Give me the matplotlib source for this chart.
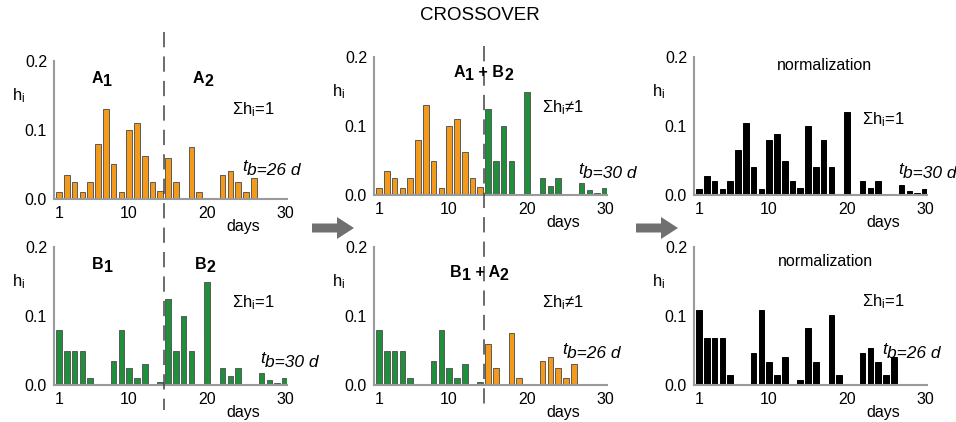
import numpy as np
import matplotlib
matplotlib.use("Agg")
import matplotlib.pyplot as plt
from matplotlib.lines import Line2D
from matplotlib.patches import FancyArrow

plt.rcParams['font.family'] = ['Liberation Sans', 'DejaVu Sans']
plt.rcParams['mathtext.fontset'] = 'custom'
plt.rcParams['mathtext.rm'] = 'Liberation Sans'
plt.rcParams['mathtext.it'] = 'Liberation Sans:italic'
plt.rcParams['mathtext.bf'] = 'Liberation Sans:bold'

# ---- data ----
days = np.arange(1, 31)
split_day = 14  # A1/B1 = days 1..14, A2/B2 = days 15..30

hist_A = [0.010, 0.035, 0.025, 0.010, 0.025, 0.080, 0.130, 0.050, 0.010, 0.100,
          0.110, 0.062, 0.025, 0.012, 0.060, 0.025, 0.000, 0.075, 0.010, 0.000,
          0.000, 0.035, 0.040, 0.025, 0.010, 0.030, 0.000, 0.000, 0.000, 0.000]
hist_B = [0.080, 0.050, 0.050, 0.050, 0.010, 0.000, 0.000, 0.035, 0.080, 0.025,
          0.010, 0.030, 0.000, 0.005, 0.125, 0.050, 0.100, 0.050, 0.000, 0.150,
          0.000, 0.025, 0.0125, 0.025, 0.000, 0.000, 0.017, 0.007, 0.003, 0.010]
norm_A1B2 = [0.008, 0.028, 0.020, 0.008, 0.020, 0.065, 0.105, 0.040, 0.008, 0.080,
             0.088, 0.050, 0.020, 0.010, 0.100, 0.040, 0.080, 0.040, 0.000, 0.120,
             0.000, 0.020, 0.010, 0.020, 0.000, 0.000, 0.014, 0.006, 0.003, 0.008]
norm_B1A2 = [0.109, 0.068, 0.068, 0.068, 0.014, 0.000, 0.000, 0.047, 0.109, 0.034,
             0.014, 0.041, 0.000, 0.007, 0.082, 0.034, 0.000, 0.102, 0.014, 0.000,
             0.000, 0.047, 0.054, 0.034, 0.014, 0.041, 0.000, 0.000, 0.000, 0.000]

ORANGE = '#f39a1a'
GREEN = '#1f8f3c'
EDGE = '#5a5a5a'
AXGRAY = '#9a9a9a'

W, H = 956, 422
fig = plt.figure(figsize=(W / 100, H / 100), dpi=100)


def px(x, y):
    return x / W, 1 - y / H


def make_ax(x0, x1, ytop, ybot):
    ax = fig.add_axes([x0 / W, 1 - ybot / H, (x1 - x0) / W, (ybot - ytop) / H])
    ax.set_xlim(0.36, 30.26)
    ax.set_ylim(0, 0.2)
    for s in ['top', 'right']:
        ax.spines[s].set_visible(False)
    for s in ['left', 'bottom']:
        ax.spines[s].set_color(AXGRAY)
        ax.spines[s].set_linewidth(1.5)
    ax.set_xticks([1, 10, 20, 30])
    ax.set_yticks([0, 0.1, 0.2])
    ax.set_yticklabels(['0.0', '0.1', '0.2'])
    ax.tick_params(length=0, labelsize=11.5, colors='black')
    ax.tick_params(axis='x', pad=5)
    ax.tick_params(axis='y', pad=5)
    ax.patch.set_alpha(0)
    return ax


def draw_bars(ax, vals, colors, edge=EDGE):
    vals = np.asarray(vals)
    keep = vals > 0
    ax.bar(days[keep], vals[keep], width=0.72, color=np.asarray(colors)[keep],
           edgecolor=edge, linewidth=0.7, zorder=2)


def ftext(x, y, s, **kw):
    kw.setdefault('fontsize', 11.5)
    return fig.text(*px(x, y), s, **kw)


def sub_label(x, y, parts, bold=True, italic=False, size=11.5, drop=2.0):
    # parts alternate between normal and lowered pieces
    kw = dict(fontsize=size, fontweight='bold' if bold else 'normal',
              fontstyle='italic' if italic else 'normal', ha='left')
    t = fig.text(*px(x, y), parts[0], va='bottom', **kw)
    for i, p in enumerate(parts[1:]):
        dy = -drop if i % 2 == 0 else drop
        t = fig.add_artist(matplotlib.text.Annotation(
            p, xy=(1, 0), xycoords=t, xytext=(0, dy), textcoords='offset points',
            va='bottom', annotation_clip=False, **kw))
    return t


cols = [(54, 287), (374, 607), (694, 927)]
rows_top = [(61, 199), (57, 195), (57, 195)]
rows_bot = [(247, 385)] * 3

colA = [ORANGE] * 30
colB = [GREEN] * 30
colAB = [ORANGE if d <= split_day else GREEN for d in days]
colBA = [GREEN if d <= split_day else ORANGE for d in days]

panels = [
    (0, 0, hist_A, colA, EDGE), (0, 1, hist_B, colB, EDGE),
    (1, 0, hist_A[:split_day] + hist_B[split_day:], colAB, EDGE),
    (1, 1, hist_B[:split_day] + hist_A[split_day:], colBA, EDGE),
    (2, 0, norm_A1B2, ['black'] * 30, 'black'),
    (2, 1, norm_B1A2, ['black'] * 30, 'black'),
]
axes = {}
for c, r, vals, colors, edge in panels:
    x0, x1 = cols[c]
    yt, yb = (rows_top if r == 0 else rows_bot)[c]
    ax = make_ax(x0, x1, yt, yb)
    draw_bars(ax, vals, colors, edge)
    axes[(c, r)] = ax
    ftext(x0 - 42, yt + 35, r'$\mathrm{h_i}$', ha='left', va='center', fontsize=12)
    ftext(x0 + 189, yb + 27, 'days', ha='center', va='center')

fig.canvas.draw()

# dashed crossover lines
for c, ytop in [(0, 32), (1, 46)]:
    xd = axes[(c, 0)].transData.transform((split_day + 0.5, 0))[0]
    fig.add_artist(Line2D([xd / W, xd / W], [1 - ytop / H, 1 - 410 / H],
                          transform=fig.transFigure, color='#444444', lw=1.1,
                          linestyle=(0, (10, 6))))

# title
ftext(480, 15, 'CROSSOVER', ha='center', va='center', fontsize=13.5)

# panel labels
sub_label(92, 86, ['A', '1'])
sub_label(193, 86, ['A', '2'])
sub_label(92, 272, ['B', '1'])
sub_label(195, 272, ['B', '2'])
sub_label(454, 80, ['A', '1', ' + B', '2'])
sub_label(450, 280, ['B', '1', ' + A', '2'])
ftext(824, 66, 'normalization', ha='center', va='center')
ftext(825, 262, 'normalization', ha='center', va='center')

# sums
for x, y, s in [(232, 110, '='), (232, 303, '='), (542, 108, '≠'),
                (542, 303, '≠'), (862, 120, '='), (862, 302, '=')]:
    ftext(x, y, 'Σ' + r'$\mathrm{h_i}$' + s + '1', ha='left', va='center', fontsize=12)

# breakpoint times
for x, y, s in [(242, 174, '26 d'), (260, 366, '30 d'), (578, 177, '30 d'),
                (562, 357, '26 d'), (898, 177, '30 d'), (882, 357, '26 d')]:
    sub_label(x, y, ['t', 'b=' + s], bold=False, italic=True, size=12.5, drop=3)

# arrows
for x0 in [312, 636]:
    fig.add_artist(FancyArrow(x0 / W, 1 - 228 / H, 42 / W, 0, width=9 / H,
                              head_width=22 / H, head_length=17 / W,
                              length_includes_head=True, transform=fig.transFigure,
                              color='#707070', lw=0))

fig.savefig('out.png', dpi=100)
